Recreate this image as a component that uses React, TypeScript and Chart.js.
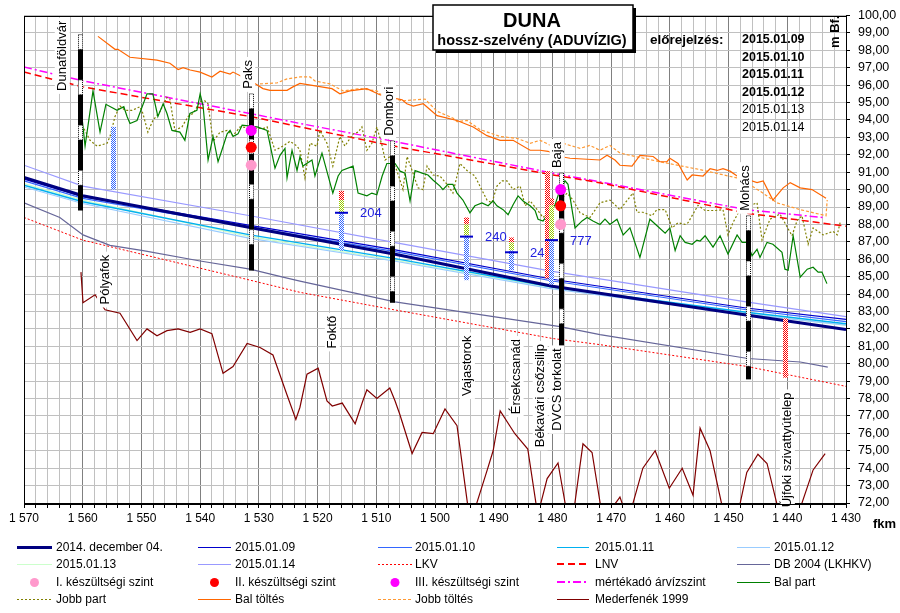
import React, { useEffect, useRef } from 'react';
import { Chart, registerables } from 'chart.js';

Chart.register(...registerables);

type Pt = [number, number];

// ---------- axis ----------
const kmMin = 1430;
const kmMax = 1570;
const mMin = 72;
const mMax = 100;

// ---------- water level profiles ----------
const profileKm = [1570, 1560, 1531.5, 1507, 1480, 1447, 1430];
const level20141204 = [90.7, 89.65, 87.82, 86.3, 84.45, 82.8, 81.96];
const level20150109 = [90.6, 89.6, 87.95, 86.55, 84.85, 83.2, 82.55];
const level20150110 = [90.5, 89.5, 87.85, 86.45, 84.75, 83.1, 82.42];
const level20150111 = [90.25, 89.3, 87.4, 86.05, 84.4, 82.95, 82.3];
const level20150112 = [90.15, 89.2, 87.2, 85.9, 84.3, 82.85, 82.22];
const level20150113 = [90.35, 89.4, 87.3, 85.95, 84.35, 82.88, 82.2];
const level20150114 = [91.4, 90.2, 88.5, 86.97, 85.3, 83.55, 82.7];

const refKm = [1570, 1560, 1531.5, 1523, 1507, 1480, 1472, 1447, 1430];
const lkv = [88.4, 87.1, 84.8, 84.1, 83.1, 81.45, 81.1, 79.85, 78.7];
const lnv = [96.75, 95.9, 94.2, 93.6, 92.5, 90.85, 90.4, 88.65, 87.9];
const maszKm = [1570, 1560, 1531.5, 1523, 1507, 1480, 1472, 1447, 1434];
const masz = [97.04, 96.25, 94.37, 93.8, 92.77, 90.95, 90.45, 88.85, 88.4];

const db2004: Pt[] = [
  [1570, 89.24], [1563.9, 88.4], [1559.95, 87.4], [1555.35, 86.8], [1549.7, 86.5], [1540, 85.9],
  [1531.5, 85.43], [1525.9, 84.97], [1523, 84.74], [1506.8, 83.55], [1478.7, 82.13], [1471.9, 81.67],
  [1446.7, 80.3], [1437.8, 80.1], [1433.1, 79.8],
];

const balPart: Pt[] = [
  [1560.1, 94.08], [1559.6, 92.5], [1558.25, 95.67], [1557.05, 93.3], [1556.05, 94.9], [1554.15, 94.55],
  [1553.0, 94.76], [1552.45, 94.2], [1551.95, 93.8], [1550.75, 93.97], [1549.05, 95.5], [1548.05, 95.5],
  [1547.2, 94.2], [1546.3, 94.93], [1545.65, 94.37], [1544.8, 93.4], [1543.45, 93.3], [1542.6, 92.83],
  [1541.75, 94.37], [1540.55, 94.55], [1540.0, 95.5], [1539.5, 94.8], [1538.65, 91.7], [1537.8, 93.05],
  [1536.95, 91.6], [1536.3, 92.26], [1535.4, 93.2], [1534.9, 93.4], [1534.4, 93.05], [1533.55, 93.2],
  [1532.85, 93.7], [1530.3, 93.6], [1528.6, 93.4], [1527.25, 91.23], [1526.4, 91.97], [1525.55, 92.37],
  [1525.2, 90.67], [1524.35, 92.26], [1523.5, 91.1], [1523.0, 91.9], [1522.5, 91.35], [1520.95, 91.7],
  [1520.45, 90.78], [1519.25, 92.1], [1517.4, 89.8], [1516.5, 90.78], [1515.85, 91.1], [1513.95, 91.35],
  [1513.1, 89.8], [1511.6, 89.64], [1510.75, 89.8], [1509.9, 89.7], [1509.0, 90.78], [1508.2, 91.5],
  [1506.8, 91.5], [1505.95, 91.06], [1505.1, 90.95], [1504.25, 89.35], [1503.4, 91.1], [1502.2, 90.95],
  [1501.2, 90.84], [1500.35, 90.55], [1499.15, 90.2], [1498.65, 90.0], [1497.8, 90.3], [1496.95, 90.3],
  [1496.25, 89.8], [1495.25, 89.4], [1494.05, 88.67], [1493.2, 89.07], [1492.0, 89.24], [1490.95, 89.07],
  [1490.1, 89.35], [1489.45, 89.07], [1488.4, 88.85], [1487.55, 88.56], [1486.7, 89.13], [1485.85, 89.64],
  [1485.0, 89.35], [1483.8, 89.07], [1482.95, 88.8], [1482.45, 88.3], [1481.6, 88.2], [1479.55, 89.13],
  [1478.7, 90.0], [1477.85, 90.5], [1477.35, 90.3], [1476.15, 87.8], [1474.95, 88.2], [1474.1, 88.4],
  [1473.1, 88.2], [1471.9, 88.0], [1471.05, 88.3], [1470.2, 88.0], [1469.0, 88.3], [1467.95, 87.4],
  [1466.8, 87.8], [1465.1, 86.1], [1463.4, 88.3], [1460.8, 87.5], [1460.0, 87.8], [1459.1, 86.5],
  [1458.25, 87.35], [1457.4, 86.97], [1456.2, 86.86], [1455.4, 87.1], [1454.85, 87.05], [1454.0, 87.35],
  [1452.65, 86.7], [1451.45, 87.35], [1450.1, 86.3], [1448.55, 87.4], [1447.7, 86.97], [1446.85, 86.97],
  [1446.0, 86.2], [1445.15, 86.57], [1444.65, 86.1], [1443.45, 86.97], [1442.45, 86.86], [1440.9, 86.4],
  [1440.4, 85.43], [1439.85, 85.37], [1439.0, 87.35], [1437.8, 84.97], [1436.6, 85.43], [1435.6, 85.54],
  [1434.75, 85.26], [1434.1, 85.26], [1433.25, 84.6],
];

const jobbPart: Pt[] = [
  [1560.1, 93.7], [1558.75, 92.83], [1557.55, 92.5], [1555.85, 92.66], [1555.35, 93.05], [1554.5, 94.2],
  [1553.65, 94.8], [1552.8, 94.55], [1551.6, 94.55], [1550.25, 94.76], [1549.75, 94.37], [1548.9, 93.3],
  [1548.05, 93.97], [1546.85, 94.48], [1545.65, 95.3], [1545.15, 95.2], [1544.3, 93.4], [1543.1, 93.6],
  [1542.05, 94.2], [1541.2, 94.37], [1540.0, 95.05], [1539.2, 95.1], [1538.65, 94.93], [1537.8, 92.77],
  [1536.6, 93.3], [1535.4, 93.4], [1534.4, 93.1], [1533.2, 93.6], [1529.3, 93.5], [1528.6, 93.6],
  [1527.25, 92.26], [1525.9, 92.5], [1524.7, 92.77], [1523.5, 92.5], [1523.0, 92.26], [1522.15, 90.67],
  [1521.3, 92.66], [1520.1, 92.5], [1519.6, 93.4], [1518.4, 92.66], [1517.4, 91.35], [1516.2, 93.05],
  [1515.35, 92.5], [1513.95, 93.2], [1513.1, 93.3], [1512.45, 93.6], [1511.6, 92.26], [1510.75, 92.66],
  [1509.9, 93.6], [1509.0, 92.5], [1508.5, 91.7], [1507.65, 91.9], [1506.5, 91.1], [1505.45, 90.0],
  [1504.75, 91.9], [1503.75, 90.95], [1502.9, 90.1], [1502.05, 90.0], [1501.35, 91.35], [1500.35, 90.84],
  [1499.15, 90.78], [1497.95, 90.3], [1496.95, 89.8], [1495.75, 91.5], [1494.55, 91.1], [1493.2, 90.78],
  [1492.35, 90.2], [1491.15, 89.4], [1490.3, 89.24], [1489.45, 90.2], [1488.6, 90.5], [1487.75, 90.5],
  [1486.7, 90.0], [1485.5, 90.2], [1484.65, 89.07], [1483.8, 89.35], [1482.6, 88.85], [1481.6, 88.4],
  [1477.5, 89.8], [1476.5, 89.4], [1475.3, 88.67], [1473.6, 88.4], [1471.9, 89.24], [1470.2, 89.4],
  [1468.5, 88.85], [1466.3, 89.8], [1465.6, 88.7], [1464.6, 88.7], [1463.05, 88.5], [1462.2, 88.85],
  [1460.8, 88.85], [1459.6, 87.8], [1458.6, 88.1], [1457.4, 88.0], [1456.9, 88.1], [1455.2, 89.1],
  [1454.0, 88.8], [1452.3, 88.8], [1450.95, 88.85], [1450.1, 87.4], [1449.25, 88.1], [1448.05, 88.85],
  [1445.15, 89.24], [1444.3, 87.1], [1442.95, 88.3], [1441.25, 88.6], [1439.2, 87.35], [1438.35, 88.2],
  [1437.5, 88.5], [1436.45, 86.86], [1435.6, 87.8], [1433.9, 87.4], [1432.2, 87.6], [1431.5, 87.4],
  [1431.0, 88.1],
];

const balToltes: Pt[] = [
  [1557.4, 98.8], [1554.5, 98.06], [1554.0, 98.06], [1551.95, 97.6], [1547.35, 97.44], [1545.15, 97.26],
  [1543.75, 96.9], [1542.9, 97.0], [1541.7, 96.87], [1540.0, 96.75], [1538.0, 96.47], [1536.6, 96.8],
  [1534.9, 96.64], [1534.4, 96.75], [1531.15, 96.19], [1529.3, 95.8], [1528.1, 95.7], [1525.2, 95.7],
  [1524.2, 95.9], [1523.0, 96.1], [1520.4, 95.96], [1517.55, 95.8], [1516.2, 95.5], [1514.5, 95.67],
  [1511.6, 95.8], [1509.4, 95.45], [1507.7, 95.3], [1505.6, 95.16], [1504.8, 94.93], [1503.7, 94.8],
  [1502.0, 94.93], [1499.65, 94.25], [1496.25, 93.97], [1493.5, 93.6], [1491.15, 93.1], [1488.9, 92.83],
  [1486.7, 92.83], [1483.8, 92.26], [1482.1, 92.26], [1480.75, 92.2], [1478.7, 91.9], [1477.0, 91.8],
  [1471.9, 91.7], [1470.7, 91.97], [1469.35, 91.7], [1468.5, 91.4], [1466.45, 91.35], [1465.1, 91.97],
  [1462.85, 91.9], [1461.7, 91.6], [1460.5, 91.6], [1460.0, 91.8], [1458.6, 91.5], [1457.05, 90.55],
  [1456.2, 90.84], [1454.35, 90.78], [1453.15, 91.2], [1451.95, 91.1], [1450.95, 91.2], [1449.75, 91.06],
  [1448.55, 90.78], [1445.15, 90.4], [1444.1, 90.5], [1442.45, 89.4], [1440.7, 90.1], [1439.5, 90.4],
  [1437.8, 90.1], [1435.8, 90.0], [1433.4, 89.5],
];

const jobbToltes: Pt[] = [
  [1529.8, 96.07], [1526.9, 96.13], [1525.2, 96.36], [1523.0, 96.47], [1521.3, 96.47], [1520.45, 96.24],
  [1517.9, 96.07], [1515.65, 95.67], [1512.8, 95.8], [1509.9, 95.67], [1509.4, 95.5], [1505.6, 95.1],
  [1501.7, 95.2], [1499.65, 94.5], [1496.9, 94.1], [1496.25, 93.9], [1494.55, 93.97], [1492.35, 93.45],
  [1488.9, 93.05], [1486.0, 92.94], [1483.8, 92.66], [1482.1, 92.83], [1480.05, 92.5], [1478.2, 92.66],
  [1475.3, 92.37], [1473.6, 92.54], [1471.9, 92.26], [1470.2, 92.54], [1468.5, 92.1], [1466.8, 91.97],
  [1461.7, 91.6], [1454.9, 91.15], [1448.55, 90.67], [1446.0, 90.2], [1444.6, 89.9], [1441.75, 89.24],
  [1437.8, 88.85], [1433.4, 88.5], [1433.2, 89.4],
];

const mederfenek1999: Pt[] = [
  [1560.3, 85.26], [1559.95, 83.5], [1557.9, 83.96], [1556.2, 83.1], [1553.65, 82.9], [1550.75, 81.33],
  [1549.05, 82.0], [1547.35, 81.6], [1545.65, 81.9], [1543.75, 82.0], [1541.7, 81.8], [1540.0, 82.0],
  [1538.0, 81.73], [1536.1, 79.45], [1534.4, 79.84], [1532.0, 81.16], [1529.8, 80.93], [1527.6, 80.5],
  [1525.2, 78.2], [1523.7, 76.8], [1523.0, 77.5], [1521.8, 79.4], [1519.9, 79.74], [1518.4, 77.86],
  [1517.5, 77.57], [1515.8, 77.74], [1513.6, 76.55], [1512.3, 77.86], [1511.6, 78.5], [1509.9, 78.0],
  [1507.7, 78.6], [1506.8, 77.86], [1506.0, 77.1], [1503.9, 74.84], [1502.2, 76.05], [1500.3, 75.98],
  [1498.3, 77.4], [1496.25, 76.44], [1494.0, 70.8], [1491.1, 73.9], [1490.1, 75.0], [1488.9, 77.29],
  [1486.4, 75.98], [1484.2, 75.1], [1482.5, 71.3], [1480.9, 73.4], [1479.05, 74.3], [1476.9, 70.2],
  [1474.8, 75.4], [1473.25, 74.9], [1471.4, 71.0], [1468.5, 72.34], [1467.1, 71.0], [1464.6, 74.0],
  [1462.5, 75.0], [1460.1, 72.85], [1457.9, 74.0], [1456.05, 72.45], [1454.85, 76.3], [1453.15, 75.0],
  [1449.6, 69.5], [1446.9, 73.76], [1445.0, 74.8], [1443.45, 74.27], [1440.0, 69.5], [1435.6, 73.9],
  [1433.55, 74.84],
];

// ---------- readiness levels (készültségi szintek) ----------
const level1Pts: Pt[] = [[1531.3, 91.4], [1478.6, 88.0]];
const level2Pts: Pt[] = [[1531.3, 92.43], [1478.6, 89.07]];
const level3Pts: Pt[] = [[1531.3, 93.4], [1478.6, 90.0]];

// ---------- gauge stations ----------
const stationNames = ['Dunaföldvár', 'Paks', 'Dombori', 'Baja', 'Mohács'];
const stationKm = [1560.5, 1531.3, 1507.3, 1478.6, 1446.7];
const stationTop = [98.9, 95.5, 92.8, 90.95, 88.5];
const stationBottom = [88.8, 85.35, 83.5, 81.0, 79.1];

// ---------- place names ----------
const placeNames = ['Pólyafok', 'Foktő', 'Vajastorok', 'Érsekcsanád', 'Békavári csőzsilip', 'DVCS torkolat', 'Újfoki szivattyútelep'];
const placeKm = [1556.2, 1517.4, 1494.4, 1486.1, 1482.0, 1479.2, 1439.9];
const placeBase = [83.4, 80.88, 78.15, 77.1, 75.2, 76.15, 71.75];

// ---------- gauge bars ----------
type Seg = [string, number, number];
const gaugeBarKm = [1554.8, 1516.0, 1494.7, 1487.0, 1480.9, 1480.2, 1440.4];
const gaugeBarSegs: Seg[][] = [
  [['b', 93.6, 90.0]],
  [['r', 89.93, 89.4], ['g', 89.4, 88.7], ['b', 88.7, 86.5]],
  [['r', 88.4, 88.0], ['g', 88.0, 87.36], ['b', 87.36, 84.8]],
  [['r', 87.25, 86.97], ['g', 86.97, 86.5], ['b', 86.5, 85.37]],
  [['r', 91.06, 84.9]],
  [['r', 89.5, 89.1], ['g', 89.1, 87.1], ['b', 87.1, 84.55]],
  [['r', 82.6, 79.2]],
];
const gaugeMark: (number | null)[] = [null, 88.67, 87.3, 86.4, null, 87.1, null];
const gaugeLabel: (string | null)[] = [null, '204', '240', '242', null, '777', null];

// ---------- forecast dates ----------
const forecastDates = ['2015.01.09', '2015.01.10', '2015.01.11', '2015.01.12', '2015.01.13', '2015.01.14'];
const forecastBold = [true, true, true, true, false, false];

// ---------- legend ----------
const legendLabels = [
  '2014. december 04.', '2015.01.09', '2015.01.10', '2015.01.11', '2015.01.12',
  '2015.01.13', '2015.01.14', 'LKV', 'LNV', 'DB 2004 (LKHKV)',
  'I. készültségi szint', 'II. készültségi szint', 'III. készültségi szint', 'mértékadó árvízszint', 'Bal part',
  'Jobb part', 'Bal töltés', 'Jobb töltés', 'Mederfenék 1999',
];

type Sty = { color: string; width: number; dash?: number[]; dot?: boolean };
const styles: Record<string, Sty> = {
  '2014. december 04.': { color: '#000080', width: 3 },
  '2015.01.09': { color: '#0000CC', width: 1.2 },
  '2015.01.10': { color: '#3366FF', width: 1.2 },
  '2015.01.11': { color: '#00B0F0', width: 1.5 },
  '2015.01.12': { color: '#99CCFF', width: 1.2 },
  '2015.01.13': { color: '#CCFFCC', width: 1.2 },
  '2015.01.14': { color: '#9999FF', width: 1.2 },
  'LKV': { color: '#FF0000', width: 1, dash: [2, 2] },
  'LNV': { color: '#FF0000', width: 1.5, dash: [7, 4] },
  'DB 2004 (LKHKV)': { color: '#666699', width: 1.2 },
  'I. készültségi szint': { color: '#FF99CC', width: 0, dot: true },
  'II. készültségi szint': { color: '#FF0000', width: 0, dot: true },
  'III. készültségi szint': { color: '#FF00FF', width: 0, dot: true },
  'mértékadó árvízszint': { color: '#FF00FF', width: 1.5, dash: [8, 3, 2, 3] },
  'Bal part': { color: '#008000', width: 1.2 },
  'Jobb part': { color: '#808000', width: 1.2, dash: [2, 2] },
  'Bal töltés': { color: '#FF6600', width: 1.2 },
  'Jobb töltés': { color: '#FF9933', width: 1.2, dash: [3, 2] },
  'Mederfenék 1999': { color: '#800000', width: 1.2 },
};

const segColor: Record<string, string> = { r: '#FF0000', g: '#99CC00', b: '#3366FF' };

const FONT = '"Liberation Sans", Arial, sans-serif';

const zip = (km: number[], v: number[]) => km.map((k, i) => ({ x: k, y: v[i] }));
const pts = (p: Pt[]) => p.map(([x, y]) => ({ x, y }));

function ds(label: string, data: { x: number; y: number }[]) {
  const s = styles[label];
  return {
    label,
    data,
    borderColor: s.color,
    backgroundColor: s.color,
    borderWidth: s.width,
    borderDash: s.dash || [],
    pointRadius: 0,
    fill: false,
    tension: 0,
  };
}

const patternCache: Record<string, CanvasPattern | null> = {};
function checker(ctx: CanvasRenderingContext2D, color: string) {
  if (patternCache[color]) return patternCache[color];
  const c = document.createElement('canvas');
  c.width = 2; c.height = 2;
  const g = c.getContext('2d')!;
  g.fillStyle = '#fff'; g.fillRect(0, 0, 2, 2);
  g.fillStyle = color; g.fillRect(0, 0, 1, 1); g.fillRect(1, 1, 1, 1);
  patternCache[color] = ctx.createPattern(c, 'repeat');
  return patternCache[color];
}

const overlay = {
  id: 'overlay',
  afterDatasetsDraw(chart: any) {
    const ctx: CanvasRenderingContext2D = chart.ctx;
    const xs = chart.scales.x;
    const ys = chart.scales.y;
    const X = (v: number) => xs.getPixelForValue(v);
    const Y = (v: number) => ys.getPixelForValue(v);
    ctx.save();

    // gauge bars
    gaugeBarKm.forEach((km, i) => {
      const px = Math.round(X(km));
      gaugeBarSegs[i].forEach(([c, t, b]) => {
        ctx.fillStyle = checker(ctx, segColor[c]) as any;
        const y1 = Y(t), y2 = Y(b);
        ctx.fillRect(px - 2, y1, 5, y2 - y1);
      });
      const mk = gaugeMark[i];
      if (mk !== null) {
        ctx.strokeStyle = '#0000CC';
        ctx.lineWidth = 2;
        ctx.setLineDash([]);
        ctx.beginPath();
        ctx.moveTo(px - 6, Y(mk));
        ctx.lineTo(px + 7, Y(mk));
        ctx.stroke();
        ctx.fillStyle = '#2020E0';
        ctx.font = `13px ${FONT}`;
        ctx.textAlign = 'left';
        ctx.textBaseline = 'middle';
        ctx.fillText(gaugeLabel[i] as string, px + 19, Y(mk) + 1);
      }
    });

    // station staffs
    stationKm.forEach((km, i) => {
      const px = Math.round(X(km)) + 0.5;
      let v = stationTop[i];
      let white = true;
      while (v > stationBottom[i] + 0.01) {
        const len = white ? 0.85 : 1.75;
        const v2 = Math.max(v - len, stationBottom[i]);
        const y1 = Y(v), y2 = Y(v2);
        if (white) {
          ctx.fillStyle = '#fff';
          ctx.fillRect(px - 2.5, y1, 5, y2 - y1);
          ctx.strokeStyle = '#000';
          ctx.lineWidth = 1;
          ctx.setLineDash([1, 1]);
          ctx.strokeRect(px - 2, y1, 4, y2 - y1);
          ctx.setLineDash([]);
        } else {
          ctx.fillStyle = '#000';
          ctx.fillRect(px - 2.5, y1, 5, y2 - y1);
        }
        v = v2;
        white = !white;
      }
    });

    // readiness markers
    const dots: [Pt[], string][] = [
      [level1Pts, styles['I. készültségi szint'].color],
      [level2Pts, styles['II. készültségi szint'].color],
      [level3Pts, styles['III. készültségi szint'].color],
    ];
    dots.forEach(([arr, col]) => {
      arr.forEach(([k, m]) => {
        ctx.fillStyle = col;
        ctx.beginPath();
        ctx.arc(X(k), Y(m), 5.5, 0, Math.PI * 2);
        ctx.fill();
      });
    });

    // vertical labels
    const vLabel = (text: string, cx: number, by: number) => {
      ctx.save();
      ctx.font = `13px ${FONT}`;
      const w = ctx.measureText(text).width;
      ctx.translate(cx, by);
      ctx.rotate(-Math.PI / 2);
      ctx.fillStyle = '#fff';
      ctx.fillRect(-3, -8, w + 6, 15);
      ctx.fillStyle = '#000';
      ctx.textAlign = 'left';
      ctx.textBaseline = 'middle';
      ctx.fillText(text, 0, 0);
      ctx.restore();
    };
    stationNames.forEach((n, i) => {
      const px = X(stationKm[i]);
      if (i === 0) vLabel(n, px - 17, Y(95.67));
      else vLabel(n, px - 3, Y(stationTop[i]) - 5);
    });
    placeNames.forEach((n, i) => vLabel(n, X(placeKm[i]), Y(placeBase[i])));

    ctx.restore();
  },
  afterDraw(chart: any) {
    const ctx: CanvasRenderingContext2D = chart.ctx;
    const a = chart.chartArea;
    ctx.save();
    ctx.setLineDash([]);
    ctx.strokeStyle = '#000';
    ctx.lineWidth = 1;
    ctx.strokeRect(Math.round(a.left) + 0.5, Math.round(a.top) + 0.5, Math.round(a.right - a.left), Math.round(a.bottom - a.top));

    // title box
    ctx.fillStyle = '#000';
    ctx.fillRect(436, 8, 200, 45);
    ctx.fillStyle = '#fff';
    ctx.fillRect(433, 5, 200, 45);
    ctx.lineWidth = 1.5;
    ctx.strokeRect(433, 5, 200, 45);
    ctx.fillStyle = '#000';
    ctx.textAlign = 'center';
    ctx.textBaseline = 'alphabetic';
    ctx.font = `bold 20px ${FONT}`;
    ctx.fillText('DUNA', 532, 27);
    ctx.font = `bold 14.5px ${FONT}`;
    ctx.fillText('hossz-szelvény (ADUVÍZIG)', 532, 45);

    ctx.textAlign = 'left';
    ctx.font = `bold 13.5px ${FONT}`;
    ctx.fillText('előrejelzés:', 650, 44);
    forecastDates.forEach((d, i) => {
      ctx.font = `${forecastBold[i] ? 'bold ' : ''}12.5px ${FONT}`;
      ctx.fillText(d, 742, 43 + i * 17.6);
    });

    // unit labels
    ctx.save();
    ctx.font = `bold 13px ${FONT}`;
    ctx.translate(839, 48);
    ctx.rotate(-Math.PI / 2);
    ctx.fillText('m Bf.', 0, 0);
    ctx.restore();
    ctx.font = `bold 13px ${FONT}`;
    ctx.fillText('fkm', 873, 528);

    // legend
    const cols = [[17, 52, 56], [198, 231, 235], [378, 412, 415], [557, 589, 595], [737, 770, 774]];
    const rows = [547, 564, 582, 599];
    ctx.font = `12px ${FONT}`;
    ctx.textBaseline = 'middle';
    legendLabels.forEach((lab, i) => {
      const [x0, x1, tx] = cols[i % 5];
      const y = rows[Math.floor(i / 5)];
      const s = styles[lab];
      if (s.dot) {
        ctx.fillStyle = s.color;
        ctx.beginPath();
        ctx.arc((x0 + x1) / 2, y + 0.5, 4.5, 0, Math.PI * 2);
        ctx.fill();
      } else {
        const lw = s.width >= 2 ? 3 : s.dash && s.width > 1.2 ? 2 : 1;
        const ly = lw % 2 === 1 ? y + 0.5 : y;
        ctx.strokeStyle = s.color;
        ctx.lineWidth = lw;
        ctx.setLineDash(s.dash || []);
        ctx.beginPath();
        ctx.moveTo(x0, ly);
        ctx.lineTo(x1, ly);
        ctx.stroke();
        ctx.setLineDash([]);
      }
      ctx.fillStyle = '#000';
      ctx.fillText(lab, tx, y + 1);
    });
    ctx.restore();
  },
};

export default function App() {
  const ref = useRef<HTMLCanvasElement>(null);
  useEffect(() => {
    document.body.style.margin = '0';
    const datasets = [
      ds('Mederfenék 1999', pts(mederfenek1999)),
      ds('Bal töltés', pts(balToltes)),
      ds('Jobb töltés', pts(jobbToltes)),
      ds('Bal part', pts(balPart)),
      ds('Jobb part', pts(jobbPart)),
      ds('LNV', zip(refKm, lnv)),
      ds('mértékadó árvízszint', zip(maszKm, masz)),
      ds('2014. december 04.', zip(profileKm, level20141204)),
      ds('2015.01.09', zip(profileKm, level20150109)),
      ds('2015.01.10', zip(profileKm, level20150110)),
      ds('2015.01.11', zip(profileKm, level20150111)),
      ds('2015.01.12', zip(profileKm, level20150112)),
      ds('2015.01.13', zip(profileKm, level20150113)),
      ds('2015.01.14', zip(profileKm, level20150114)),
      ds('DB 2004 (LKHKV)', pts(db2004)),
      ds('LKV', zip(refKm, lkv)),
    ];
    const chart = new Chart(ref.current as HTMLCanvasElement, {
      type: 'line',
      data: { datasets } as any,
      options: {
        responsive: false,
        animation: false,
        devicePixelRatio: 1,
        events: [],
        layout: { padding: { left: 24, top: 11, right: 0, bottom: 0 } },
        plugins: { legend: { display: false }, tooltip: { enabled: false } },
        scales: {
          x: {
            type: 'linear',
            reverse: true,
            min: kmMin,
            max: kmMax,
            afterFit: (s: any) => { s.height = 110; },
            border: { display: true, color: '#000', width: 1 },
            grid: {
              color: (c: any) => (c.tick && Math.round(c.tick.value) % 10 === 0 ? '#808080' : '#C0C0C0'),
              tickColor: '#000',
              tickLength: 5,
              lineWidth: 1,
            },
            ticks: {
              stepSize: 2,
              maxTicksLimit: 1000,
              autoSkip: false,
              maxRotation: 0,
              minRotation: 0,
              padding: 3,
              color: '#000',
              font: { family: FONT, size: 12 },
              callback: (v: any) => {
                const n = Math.round(Number(v));
                if (n % 10 !== 0) return '';
                const s = String(n);
                return s.slice(0, s.length - 3) + ' ' + s.slice(-3);
              },
            },
          },
          y: {
            type: 'linear',
            position: 'right',
            min: mMin,
            max: mMax,
            afterFit: (s: any) => { s.width = 54; },
            border: { display: true, color: '#000', width: 1 },
            grid: { color: '#C0C0C0', tickColor: '#000', tickLength: 4, lineWidth: 1 },
            ticks: {
              stepSize: 1,
              maxTicksLimit: 1000,
              autoSkip: false,
              padding: 8,
              color: '#000',
              font: { family: FONT, size: 12.5 },
              callback: (v: any) => Number(v).toFixed(2).replace('.', ','),
            },
          },
        },
      } as any,
      plugins: [overlay as any],
    });
    return () => chart.destroy();
  }, []);
  return (
    <div style={{ position: 'absolute', left: 0, top: 0, width: 900, height: 613, background: '#fff' }}>
      <canvas ref={ref} width={900} height={613} style={{ display: 'block' }} />
    </div>
  );
}
